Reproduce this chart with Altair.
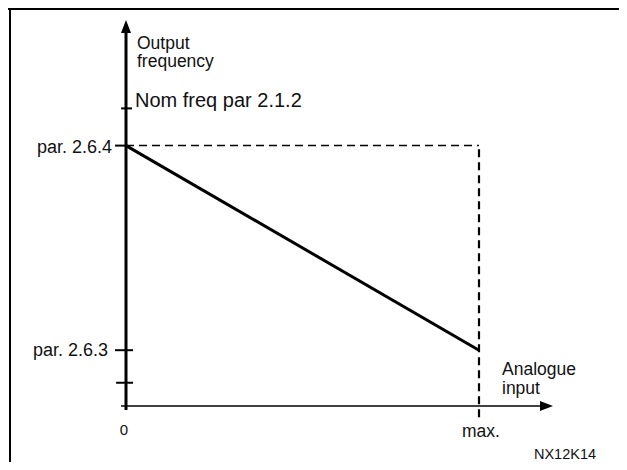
import altair as alt
import pandas as pd

# ---- values ----
x_values = [0, 1]
x_labels = ["0", "max."]
line_x = [0, 1]
line_y = [56, 12]
y_tick_values = [64, 56, 12, 5]
y_tick_labels = ["Nom freq par 2.1.2", "par. 2.6.4", "par. 2.6.3", ""]
y_title_lines = ["Output", "frequency"]
x_title_lines = ["Analogue", "input"]
code_label = "NX12K14"

# ---- layout helpers (axis extents, arrow places) ----
Y_TOP = 83.0     # tip of the y-axis arrow
Y_BASE = 80.2    # base of the y-axis arrow
Y_HALF = 0.0142  # half width of the y arrow (x units)
X_TIP = 1.2096   # tip of the x-axis arrow
X_BASE = 1.1728  # base of the x-axis arrow
X_HALF = 1.075   # half height of the x arrow (y units)
X_DOM = [-0.33428, 1.3966]
Y_DOM = [-12.043, 85.591]
W, H = 611, 454
FONT = "Liberation Sans"

xs = alt.Scale(domain=X_DOM, nice=False, zero=False)
ys = alt.Scale(domain=Y_DOM, nice=False, zero=False)
X = lambda f="x": alt.X(f"{f}:Q", scale=xs, axis=None)
Y = lambda f="y": alt.Y(f"{f}:Q", scale=ys, axis=None)

# border (top and left of the figure frame)
border_top = alt.Chart(pd.DataFrame({"a": [0]})).mark_rule(color="black", strokeWidth=2).encode(
    x=alt.value(0), x2=alt.value(W), y=alt.value(1))
border_left = alt.Chart(pd.DataFrame({"a": [0]})).mark_rule(color="black", strokeWidth=2).encode(
    x=alt.value(2), y=alt.value(0), y2=alt.value(H))

# axes
y_axis = alt.Chart(pd.DataFrame({"x": [0], "y": [-0.86], "y2": [Y_BASE + 0.5]})).mark_rule(
    color="black", strokeWidth=3).encode(x=X(), y=Y(), y2="y2:Q")
x_axis = alt.Chart(pd.DataFrame({"x": [-0.014], "x2": [X_BASE + 0.005], "y": [0]})).mark_rule(
    color="black", strokeWidth=1.6).encode(x=X(), x2="x2:Q", y=Y())

# arrow heads as small filled areas
y_arrow = alt.Chart(pd.DataFrame({
    "y": [Y_BASE, Y_TOP], "x": [-Y_HALF, 0.0], "x2": [Y_HALF, 0.0]
})).mark_area(color="black", opacity=1, orient="horizontal").encode(y=Y(), x=X(), x2="x2:Q")
x_arrow = alt.Chart(pd.DataFrame({
    "x": [X_BASE, X_TIP], "y": [-X_HALF, 0.0], "y2": [X_HALF, 0.0]
})).mark_area(color="black", opacity=1, orient="vertical").encode(x=X(), y=Y(), y2="y2:Q")

# ticks on y axis
tick_df = pd.DataFrame({
    "y": y_tick_values,
    "x": [-0.014, -0.031, -0.031, -0.028],
    "x2": [0.017, 0.0, 0.02, 0.02],
})
ticks = alt.Chart(tick_df).mark_rule(color="black", strokeWidth=2).encode(x=X(), x2="x2:Q", y=Y())

# dashed guides
dash_h = alt.Chart(pd.DataFrame({"x": [0], "x2": [x_values[1]], "y": [line_y[0]]})).mark_rule(
    color="black", strokeWidth=1.5, strokeDash=[8, 5]).encode(x=X(), x2="x2:Q", y=Y())
dash_v = alt.Chart(pd.DataFrame({"x": [x_values[1]], "y": [-2.4], "y2": [line_y[0]]})).mark_rule(
    color="black", strokeWidth=2.2, strokeDash=[8, 5]).encode(x=X(), y=Y(), y2="y2:Q")

# main line
main = alt.Chart(pd.DataFrame({"x": line_x, "y": line_y})).mark_line(
    color="black", strokeWidth=3).encode(x=X(), y=Y())

def txt(label, x, y, size, align="left", dx=0, dy=0):
    kw = dict(text=label, align=align, baseline="alphabetic", dx=dx, dy=dy,
              font=FONT, fontSize=size, color="#111111")
    return alt.Chart(pd.DataFrame({"x": [x], "y": [y]})).mark_text(**kw).encode(x=X(), y=Y())

labels = [
    txt(y_tick_labels[0], 0, y_tick_values[0], 20, "left", dx=9, dy=-1),
    txt(y_tick_labels[1], 0, y_tick_values[1], 18, "right", dx=-14, dy=7),
    txt(y_tick_labels[2], 0, y_tick_values[2], 18, "right", dx=-18, dy=6),
    txt(x_labels[0], x_values[0], 0, 15, "center", dx=-2, dy=29),
    txt(x_labels[1], x_values[1], 0, 17.5, "center", dx=2, dy=31),
    txt(y_title_lines[0], 0, Y_TOP, 17.5, "left", dx=11, dy=28.5),
    txt(y_title_lines[1], 0, Y_TOP, 17.5, "left", dx=11, dy=47),
    txt(x_title_lines[0], x_values[1], 0, 17.5, "left", dx=23, dy=-31),
    txt(x_title_lines[1], x_values[1], 0, 17.5, "left", dx=23, dy=-12),
    txt(code_label, x_values[1], 0, 14.5, "center", dx=86, dy=53),
]

chart = alt.layer(
    border_top, border_left, dash_h, dash_v, main, y_axis, x_axis, y_arrow, x_arrow, ticks, *labels
).properties(
    width=W, height=H, padding=0, autosize=alt.AutoSizeParams(type="none")
).configure_view(stroke=None)

chart.save("out.html", embed_options={"renderer": "svg", "actions": False})
